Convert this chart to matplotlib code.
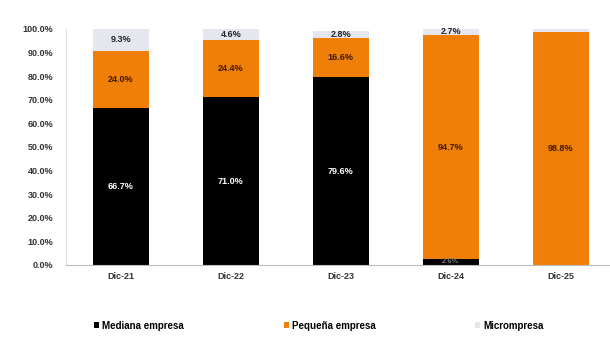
import numpy as np
import matplotlib.pyplot as plt

periodos = ["Dic-21", "Dic-22", "Dic-23", "Dic-24", "Dic-25"]
mediana = [66.7, 71.0, 79.6, 2.6, 0.0]
pequena = [24.0, 24.4, 16.6, 94.7, 98.8]
micro = [9.3, 4.6, 2.8, 2.7, 1.2]

plt.rcParams['font.family'] = ['Liberation Sans', 'DejaVu Sans']

fig = plt.figure(figsize=(6.1, 3.41), dpi=100)
ax = fig.add_axes([0.108, 0.223, 0.892, 0.692])

x = np.arange(len(periodos))
w = 0.51
b1 = ax.bar(x, mediana, w, color='#000000', label='Mediana empresa')
b2 = ax.bar(x, pequena, w, bottom=mediana, color='#F07F09', label='Pequeña empresa')
base3 = np.array(mediana) + np.array(pequena)
b3 = ax.bar(x, micro, w, bottom=base3, color='#E4E8EE', label='Micrompresa')

# etiquetas centradas en cada tramo
for i in range(len(x)):
    if mediana[i] > 5:
        ax.text(x[i], mediana[i] / 2, f'{mediana[i]:.1f}%', ha='center', va='center',
                color='white', fontsize=6.5, fontweight='bold')
    elif mediana[i] > 0:
        ax.text(x[i], mediana[i] / 2, f'{mediana[i]:.1f}%', ha='center', va='center',
                color='#777777', fontsize=5.5, fontweight='bold')
    ax.text(x[i], mediana[i] + pequena[i] / 2, f'{pequena[i]:.1f}%', ha='center', va='center',
            color='#3a1a00', fontsize=6.5, fontweight='bold')
    if micro[i] >= 2:
        ax.text(x[i], base3[i] + max(micro[i] / 2, 1.6), f'{micro[i]:.1f}%', ha='center', va='center',
                color='#222222', fontsize=6.5, fontweight='bold')

ax.set_xlim(-0.5, 4.45)
ax.set_ylim(0, 100)
ax.set_yticks(np.arange(0, 101, 10))
ax.set_yticklabels([f'{v:.1f}%' for v in range(0, 101, 10)])
ax.set_xticks(x)
ax.set_xticklabels(periodos)
ax.tick_params(axis='both', length=0, labelsize=6.5, colors='#333333')
ax.tick_params(axis='y', pad=9)
ax.tick_params(axis='x', pad=5)
for lbl in ax.get_xticklabels() + ax.get_yticklabels():
    lbl.set_fontweight('bold')
for s in ['top', 'right']:
    ax.spines[s].set_visible(False)
ax.spines['left'].set_color('#e0e0e0')
ax.spines['bottom'].set_color('#bbbbbb')

fig.legend(handles=[b1, b2, b3], loc='lower left', bbox_to_anchor=(0.14, 0.005), ncol=3,
           frameon=False, handlelength=0.5, handleheight=0.5, handletextpad=0.3,
           columnspacing=10.3, prop={'weight': 'bold', 'size': 7})

plt.savefig('out.png', dpi=100)
